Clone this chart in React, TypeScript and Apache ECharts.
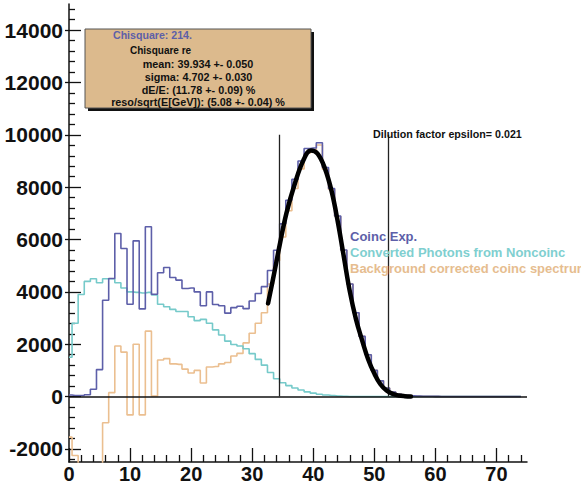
import React, { useEffect, useRef } from "react";
import * as echarts from "echarts";

// Histogram bins: centres at integer energies, width 1
const binCenters = [
  0, 1, 2, 3, 4, 5, 6, 7, 8, 9, 10, 11, 12, 13, 14, 15, 16, 17, 18, 19, 20, 21, 22, 23, 24,
  25, 26, 27, 28, 29, 30, 31, 32, 33, 34, 35, 36, 37, 38, 39, 40, 41, 42, 43, 44, 45, 46, 47, 48, 49,
  50, 51, 52, 53, 54, 55, 56, 57, 58, 59, 60, 61, 62, 63, 64, 65, 66, 67, 68, 69, 70, 71, 72, 73, 74,
];

// Coinc Exp.
const coincExp = [
  60, 40, 40, 70, 280, 1030, 3680, 4510, 6230, 5660, 3530, 5950, 3350, 6490, 3910, 4730, 4930, 4550, 4450, 4130,
  4150, 4000, 3470, 4000, 3520, 3470, 3190, 3400, 3450, 3360, 3650, 3940, 4200, 4820, 5590, 6600, 7500, 8300, 9000, 9480,
  9500, 9700, 8750, 7950, 6900, 5600, 4300, 3200, 2300, 1600, 1000, 600, 330, 170, 90, 50, 30, 20, 15, 10,
  8, 5, 4, 3, 2, 1, 0, 0, 0, 0, 0, 0, 0, 0, 0,
];

// Converted Photons from Noncoinc
const convertedPhotons = [
  1500, 2800, 3900, 4400, 4500, 4350, 4500, 4500, 4350, 4150, 4000, 3980, 3960, 3980, 3880, 3530, 3430, 3330, 3250, 3250,
  3050, 2900, 2950, 2800, 2550, 2350, 2120, 1990, 1930, 1830, 1640, 1420, 1200, 920, 680, 530, 420, 330, 250, 180,
  130, 90, 60, 40, 20, 10, 0, 0, 0, 0, 0, 0, 0, 0, 0, 0, 0, 0, 0, 0,
  0, 0, 0, 0, 0, 0, 0, 0, 0, 0, 0, 0, 0, 0, 0,
];

// Background corrected coinc spectrum
const bgCorrected = [
  -1550, -2250, -3700, -4300, -4200, -3300, -1000, 150, 1930, 1700, -700, 2000, -700, 2500, 20, 1400, 1450, 1250, 1230, 1050,
  900, 1000, 520, 1130, 1150, 1250, 1300, 1550, 1650, 2050, 2420, 2800, 3200, 4300, 5200, 6100, 7100, 7950, 8700, 9300,
  9370, 9610, 8690, 7910, 6880, 5590, 4300, 3200, 2300, 1600, 1000, 600, 330, 170, 90, 50, 30, 20, 15, 10,
  8, 5, 4, 3, 2, 1, 0, 0, 0, 0, 0, 0, 0, 0, 0,
];

// Fitted peak curve, sampled along the fit range
const fitX = [32.6, 33.7, 34.5, 35.6, 37.0, 38.4, 39.6, 40.7, 41.9, 43.0, 44.0, 45.0, 46.0, 47.0, 48.0, 49.0, 50.0, 51.0, 52.0, 53.0, 54.0, 55.0, 56.0];
const fitY = [3560, 4830, 5790, 7000, 8150, 9040, 9400, 9280, 8720, 7850, 6700, 5350, 4000, 2950, 2150, 1420, 880, 470, 230, 100, 40, 15, 5];

// Integration window and its height
const windowEdges = [34.5, 52.3];
const windowTop = 10000;

// Axis ticks
const xMajor = [0, 10, 20, 30, 40, 50, 60, 70];
const xMinor = [2, 4, 6, 8, 12, 14, 16, 18, 22, 24, 26, 28, 32, 34, 36, 38, 42, 44, 46, 48, 52, 54, 56, 58, 62, 64, 66, 68, 72, 74];
const yMajor = [-2000, 0, 2000, 4000, 6000, 8000, 10000, 12000, 14000];
const yMinor = [
  -2400, -1600, -1200, -800, -400, 400, 800, 1200, 1600, 2400, 2800, 3200, 3600, 4400, 4800, 5200, 5600,
  6400, 6800, 7200, 7600, 8400, 8800, 9200, 9600, 10400, 10800, 11200, 11600, 12400, 12800, 13200, 13600, 14400, 14800,
];

// Fit summary
const statsTitle = "Chisquare: 214.";
const statsLines = [
  "mean: 39.934 +- 0.050",
  "sigma: 4.702 +- 0.030",
  "dE/E: (11.78 +- 0.09) %",
  "reso/sqrt(E[GeV]): (5.08 +- 0.04) %",
];
const dilutionText = "Dilution factor epsilon= 0.021";

const seriesNames = ["Coinc Exp.", "Converted Photons from Noncoinc", "Background corrected coinc spectrum"];
const BLUE = "#5d5fa9";
const CYAN = "#76caca";
const ORANGE = "#ebbf90";

const FONT = '"Liberation Sans", Arial, Helvetica, sans-serif';

const Y_MIN = -2500;
const Y_MAX = 15000;

function txt(x: number, y: number, text: string, color: string, size: number, align = "left") {
  return {
    type: "text",
    x,
    y,
    z: 100,
    style: {
      text,
      fill: color,
      font: `bold ${size}px ${FONT}`,
      textAlign: align,
      textVerticalAlign: "middle",
    },
  };
}

export default function App() {
  const ref = useRef<HTMLDivElement>(null);

  useEffect(() => {
    document.body.style.margin = "0";
    if (!ref.current) return;
    const chart = echarts.init(ref.current, null, { renderer: "svg" });

    const pairs = (vals: number[]) => binCenters.map((x, i) => [x, vals[i]]);
    const labelStyle = { fontSize: 21, fontWeight: "bold", color: "#111", fontFamily: FONT };

    const hist = (name: string, vals: number[], color: string, z: number) => ({
      name,
      type: "line",
      step: "middle",
      data: pairs(vals),
      showSymbol: false,
      symbol: "none",
      clip: true,
      z,
      lineStyle: { color, width: 1.6 },
      emphasis: { disabled: true },
    });

    chart.setOption({
      animation: false,
      grid: { left: 69, right: 54, top: 4, bottom: 22, containLabel: false, outerBoundsMode: "none" },
      xAxis: [
        {
          type: "value",
          min: 0,
          max: 75,
          position: "bottom",
          axisLine: { show: true, onZero: false, lineStyle: { color: "#111", width: 1.5 } },
          axisTick: { show: true, inside: true, length: 14, customValues: xMajor, lineStyle: { color: "#111", width: 1.3 } },
          axisLabel: { ...labelStyle, fontSize: 20, lineHeight: 20, margin: 2, customValues: xMajor, formatter: (v: number) => String(v) },
          splitLine: { show: false },
        },
        {
          type: "value",
          min: 0,
          max: 75,
          position: "bottom",
          axisLine: { show: false, onZero: false },
          axisTick: { show: true, inside: true, length: 7, customValues: xMinor, lineStyle: { color: "#111", width: 1.3 } },
          axisLabel: { show: false },
          splitLine: { show: false },
        },
      ],
      yAxis: [
        {
          type: "value",
          min: Y_MIN,
          max: Y_MAX,
          position: "left",
          axisLine: { show: true, onZero: false, lineStyle: { color: "#111", width: 1.5 } },
          axisTick: { show: true, inside: true, length: 12, customValues: yMajor, lineStyle: { color: "#111", width: 1.3 } },
          axisLabel: { ...labelStyle, margin: 6, customValues: yMajor, formatter: (v: number) => String(v) },
          splitLine: { show: false },
        },
        {
          type: "value",
          min: Y_MIN,
          max: Y_MAX,
          position: "left",
          axisLine: { show: false, onZero: false },
          axisTick: { show: true, inside: true, length: 6, customValues: yMinor, lineStyle: { color: "#111", width: 1.3 } },
          axisLabel: { show: false },
          splitLine: { show: false },
        },
        {
          type: "value",
          min: Y_MIN,
          max: Y_MAX,
          position: "left",
          axisLine: { show: false, onZero: false },
          axisTick: { show: true, inside: false, length: 4, customValues: yMajor, lineStyle: { color: "#111", width: 1.3 } },
          axisLabel: { show: false },
          splitLine: { show: false },
        },
      ],
      series: [
        hist(seriesNames[2], bgCorrected, ORANGE, 2),
        hist(seriesNames[1], convertedPhotons, CYAN, 3),
        {
          ...hist(seriesNames[0], coincExp, BLUE, 4),
          markLine: {
            silent: true,
            symbol: "none",
            label: { show: false },
            lineStyle: { color: "#222", width: 1.3, type: "solid" },
            data: [
              { yAxis: 0, lineStyle: { color: "#111", width: 1.6, type: "solid" } },
              ...windowEdges.map((x) => [{ coord: [x, 0] }, { coord: [x, windowTop] }]),
            ],
          },
        },
        {
          name: "fit",
          type: "line",
          data: fitX.map((x, i) => [x, fitY[i]]),
          smooth: 0.4,
          showSymbol: false,
          symbol: "none",
          z: 6,
          lineStyle: { color: "#000", width: 4.5, cap: "round" },
          emphasis: { disabled: true },
        },
      ],
      graphic: [
        { type: "rect", shape: { x: 88, y: 32, width: 226, height: 79 }, style: { fill: "#111" }, z: 90 },
        { type: "rect", shape: { x: 85, y: 29, width: 226, height: 79 }, style: { fill: "#dcba8d", stroke: "#555", lineWidth: 1 }, z: 91 },
        txt(113, 35, statsTitle, "#5d60a8", 10.6),
        txt(130, 50.5, "Chisquare re", "#111", 10),
        txt(198, 63.5, statsLines[0], "#111", 10.8, "center"),
        txt(198.5, 76.5, statsLines[1], "#111", 10.8, "center"),
        txt(198.5, 89.5, statsLines[2], "#111", 10.8, "center"),
        txt(198, 102, statsLines[3], "#111", 10.8, "center"),
        txt(373, 133.5, dilutionText, "#111", 10.7),
        txt(350, 236, seriesNames[0], BLUE, 13),
        txt(350, 252, seriesNames[1], "#7fcfd0", 13),
        txt(350, 268, seriesNames[2], "#e6bd8f", 13),
      ],
    });

    return () => chart.dispose();
  }, []);

  return <div ref={ref} style={{ width: 581, height: 484 }} />;
}
